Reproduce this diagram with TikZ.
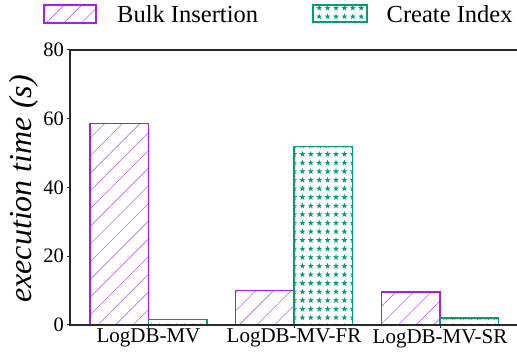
\documentclass[tikz,border=0pt]{standalone}
\usepackage{fontspec}
\setmainfont{Liberation Serif}
\newfontfamily\plotfont{Liberation Serif}
\usetikzlibrary{patterns.meta}
\definecolor{bulkpurple}{RGB}{160,32,240}
\definecolor{indexgreen}{RGB}{0,158,115}
\definecolor{axisgray}{RGB}{40,40,40}

\tikzdeclarepattern{
    name=star grid,
    type=uncolored,
    bounding box={(-4.2pt,-4.3pt) and (4.2pt,4.3pt)},
    tile size={(8.4pt,8.6pt)},
    code={
        \fill (90:3.2pt) -- (234:3.2pt) -- (18:3.2pt) -- (162:3.2pt) -- (306:3.2pt) -- cycle;
    }
}

\begin{document}
\begin{tikzpicture}[
        x=1pt, y=1pt,
        axis line/.style={draw=axisgray, line width=1.5pt},
        bulk bar/.style={draw=bulkpurple, line width=1.3pt,
            pattern={Lines[angle=45,distance=12.5pt,line width=0.6pt]},
            pattern color=bulkpurple!70},
        index bar/.style={draw=indexgreen, line width=1.3pt,
            pattern=star grid, pattern color=indexgreen},
        tick label/.style={font=\plotfont\fontsize{20.5}{24}\selectfont, inner sep=0pt},
        group label/.style={font=\plotfont\fontsize{21}{25}\selectfont, inner sep=0pt},
        legend label/.style={font=\plotfont\fontsize{24.5}{28}\selectfont, inner sep=0pt, anchor=west}
                                ]
    \useasboundingbox (-70,-27) rectangle (447,325);

    % bars: centre / bulk insertion / create index
    \foreach \c/\b/\i in {78.5/58.7/1.5, 224/10.0/52.0, 370/9.6/2.0} {
        \path[bulk bar] (\c-58.5,0) rectangle (\c,\b*3.4375);
        \path[index bar] (\c,0) rectangle (\c+58.5,\i*3.4375);
    }

    % axes
    \draw[axis line] (447,275) -- (0,275) -- (0,0) -- (447,0);
    \foreach \v in {0,20,40,60,80} {
        \draw[axisgray, line width=1pt] (0,\v*3.4375) -- (-3,\v*3.4375);
        \node[tick label, anchor=east] (tick\v) at (-6,\v*3.4375) {\v};
    }
    \foreach \c/\name/\txt in {78.5/mv/LogDB-MV, 224/fr/LogDB-MV-FR, 370/sr/LogDB-MV-SR} {
        \draw[axisgray, line width=1pt] (\c,0) -- (\c,-3);
        \node[group label, anchor=north] (lab\name) at (\c,-4) {\txt};
    }

    \node[font=\plotfont\fontsize{32}{36}\selectfont\itshape, rotate=90] (ylab) at (-46,136)
        {execution time (s)};

    % legend
    \path[bulk bar, line width=1.2pt] (-26,302) rectangle (26,320);
    \node[legend label] (legbulk) at (47,311) {Bulk Insertion};
    \path[index bar, line width=1.2pt] (243,303) rectangle (297,320);
    \node[legend label] (legindex) at (316.5,311) {Create Index};
\end{tikzpicture}
\end{document}
